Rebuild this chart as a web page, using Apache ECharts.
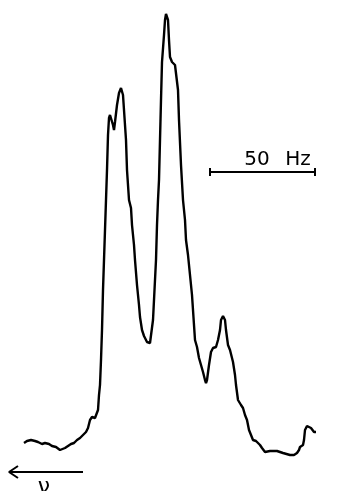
<!DOCTYPE html>
<html>
<head>
<meta charset="utf-8">
<script src="https://cdn.jsdelivr.net/npm/echarts@6/dist/echarts.min.js"></script>
<style>
html,body{margin:0;padding:0;background:#fff;}
#chart{width:340px;height:491px;}
</style>
</head>
<body>
<div id="chart"></div>
<script>
// Spectrum trace: frequency position (arbitrary units) and intensity (arbitrary units)
const freq = [24,27,31,35,38,42,45,49,52,56,60,62,65,68,71,74,77,80,83,86,88,90,92,95,97,98,99,100,101,102,103,104,105,106,107,108,109,110,112,113,114,115,117,119,121,123,124,126,127,129,131,132,134,135,137,139,140,142,144,147,150,152,153,154,156,157,158,159,160,161,162,164,165,166,167,168,169,170,172,175,177,178,179,181,183,185,186,188,190,192,194,195,197,199,201,203,205,206,207,209,211,213,216,218,220,221,223,225,226,228,230,232,233,235,236,238,241,243,245,247,249,251,253,256,258,260,262,265,270,277,283,290,294,297,299,300,303,304,305,307,309,311,314,316];
const pixY = [443,441,440,441,442,444,443,444,446,447,450,451,448,446,444,443,440,438,435,432,428,420,417,418,417,410,395,385,360,330,290,260,230,200,170,135,118,115,117,125,130,122,105,93,88,95,110,140,170,200,208,225,245,260,285,305,317,330,336,342,343,342,320,300,260,225,200,180,140,100,62,35,20,14,12,20,40,57,62,65,67,90,120,165,200,220,240,255,275,295,325,340,347,358,365,372,380,383,380,365,352,348,347,340,330,320,316,320,330,345,350,352,362,375,385,400,405,408,415,420,430,435,440,441,442,445,448,452,451,451,453,455,455,453,450,447,445,440,430,426,425,428,432,432];
const intensity = pixY.map(v => 491 - v);

// 50 Hz scale bar (frequency units) and its level
const scaleBarX = [210, 315];
const scaleBarY = 491 - 172;
const scaleLabelParts = ['50', 'Hz'];
// frequency direction arrow
const arrowX = [83, 9];
const arrowY = 491 - 472;
const arrowLabel = 'ν';

const trace = freq.map((f, i) => [f, intensity[i]]);
const tick = 4;
const barData = [
  [scaleBarX[0], scaleBarY], [scaleBarX[1], scaleBarY], null,
  [scaleBarX[0], scaleBarY + tick], [scaleBarX[0], scaleBarY - tick], null,
  [scaleBarX[1], scaleBarY + tick], [scaleBarX[1], scaleBarY - tick]
];
const arrowData = [
  [arrowX[0], arrowY], [arrowX[1], arrowY], null,
  [arrowX[1] + 9, arrowY + 6], [arrowX[1], arrowY], [arrowX[1] + 9, arrowY - 6]
];

const textStyle = {color: '#000', fontSize: 20, fontFamily: 'DejaVu Sans'};
const chart = echarts.init(document.getElementById('chart'));
chart.setOption({
  animation: false,
  grid: {left: 0, right: 0, top: 0, bottom: 0},
  xAxis: {type: 'value', min: 0, max: 340, show: false},
  yAxis: {type: 'value', min: 0, max: 491, show: false},
  series: [
    {type: 'line', data: trace, showSymbol: false, smooth: false,
     lineStyle: {color: '#000', width: 2.4}},
    {type: 'line', data: barData, showSymbol: false, connectNulls: false,
     lineStyle: {color: '#000', width: 2},
     markPoint: {symbol: 'circle', symbolSize: 0,
       label: Object.assign({show: true, offset: [0, -12]}, textStyle),
       data: [
         {coord: [257, scaleBarY], label: {formatter: scaleLabelParts[0]}},
         {coord: [298, scaleBarY], label: {formatter: scaleLabelParts[1]}}
       ]}},
    {type: 'line', data: arrowData, showSymbol: false, connectNulls: false,
     lineStyle: {color: '#000', width: 2},
     markPoint: {symbol: 'circle', symbolSize: 0,
       label: Object.assign({show: true, formatter: arrowLabel, offset: [0, 15]}, textStyle, {fontSize: 22}),
       data: [{coord: [44, arrowY]}]}}
  ]
});
</script>
</body>
</html>
